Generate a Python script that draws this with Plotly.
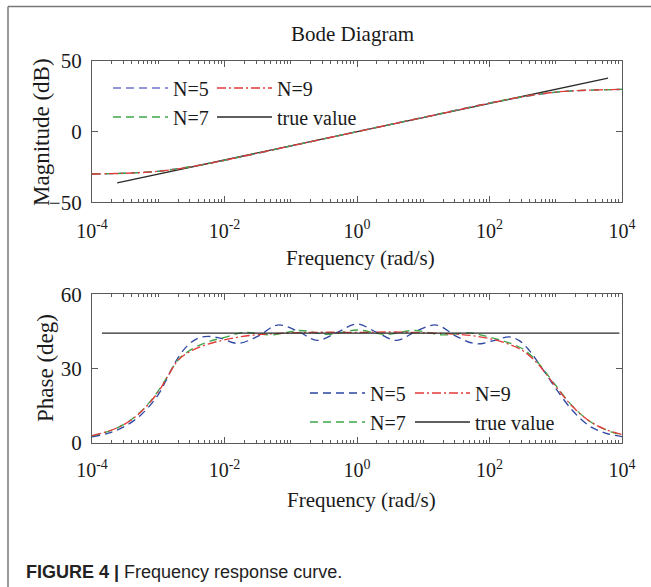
import plotly.graph_objects as go

# ---------------- data ----------------
# Magnitude plot: frequency grid given as log10(rad/s)
mag_logw = [-4, -3.75, -3.5, -3.25, -3, -2.75, -2.5, -2.25, -2, -1, 0, 1, 2, 2.25, 2.5, 2.75, 3, 3.25, 3.5, 3.75, 4]
mag_n5 = [-29.9, -29.7, -29.3, -28.8, -27.9, -26.4, -24.6, -22.5, -20.3, -10.2, 0.1, 10.2, 20.3, 22.5, 24.6, 26.4, 27.9, 28.8, 29.3, 29.7, 29.9]
mag_n7 = [-29.9, -29.7, -29.4, -28.9, -28.0, -26.5, -24.7, -22.6, -20.2, -10.1, 0.0, 10.1, 20.2, 22.6, 24.7, 26.5, 28.0, 28.9, 29.4, 29.7, 29.9]
mag_n9 = [-29.9, -29.7, -29.4, -28.9, -28.0, -26.6, -24.8, -22.6, -20.2, -10.1, 0.0, 10.1, 20.2, 22.6, 24.8, 26.6, 28.0, 28.9, 29.4, 29.7, 30.0]
mag_true_logw = [-3.62, 3.79]
mag_true = [-36.2, 37.9]

# Phase plot
ph5_logw = [-4.0, -3.75, -3.5, -3.25, -3.0, -2.85, -2.7, -2.55, -2.4, -2.25, -2.05, -1.8, -1.5, -1.2, -0.9, -0.6, -0.3, 0.0,
            0.3, 0.6, 0.9, 1.2, 1.5, 1.8, 2.05, 2.3, 2.45, 2.6, 2.75, 2.9, 3.0, 3.25, 3.5, 3.75, 4.0]
ph5 = [2.5, 4.0, 6.8, 11.6, 19.5, 27.0, 34.5, 39.5, 42.3, 43.0, 42.2, 40.2, 43.0, 47.6, 45.2, 41.4, 44.6, 48.0,
       44.6, 41.4, 45.2, 47.6, 43.0, 40.0, 41.2, 42.8, 41.3, 37.4, 31.8, 26.0, 22.0, 13.2, 7.0, 4.0, 2.6]
ph7_logw = [-4.0, -3.75, -3.5, -3.25, -3.0, -2.85, -2.7, -2.5, -2.25, -2.0, -1.71, -1.29, -0.86, -0.43, 0.0,
            0.43, 0.86, 1.29, 1.71, 2.0, 2.25, 2.5, 2.7, 2.85, 3.0, 3.25, 3.5, 3.75, 4.0]
ph7 = [2.9, 4.7, 7.8, 13.0, 21.0, 27.4, 33.6, 37.8, 40.8, 42.6, 44.6, 43.6, 45.4, 43.8, 45.6,
       43.8, 45.4, 43.6, 44.4, 42.7, 40.8, 38.0, 33.4, 28.5, 23.2, 15.0, 9.0, 5.4, 3.2]
ph9_logw = [-4.0, -3.75, -3.5, -3.25, -3.0, -2.85, -2.7, -2.5, -2.25, -2.0, -1.75, -1.5, -1.0, -0.5, 0.0,
            0.5, 1.0, 1.5, 1.75, 2.0, 2.25, 2.5, 2.7, 2.85, 3.0, 3.25, 3.5, 3.75, 4.0]
ph9 = [3.0, 4.8, 7.7, 12.8, 20.6, 27.2, 33.4, 37.2, 39.9, 41.6, 42.9, 43.7, 44.4, 44.7, 44.6,
       44.8, 44.5, 43.9, 43.3, 42.1, 40.3, 37.3, 32.8, 28.0, 22.8, 14.8, 9.0, 5.5, 3.4]
ph_true_logw = [-3.85, 3.96]
ph_true = [44.3, 44.3]

series_names = ["N=5", "N=7", "N=9", "true value"]
x_tick_exps = [-4, -2, 0, 2, 4]
mag_ticks = [-50, 0, 50]
phase_ticks = [0, 30, 60]

# ---------------- styling ----------------
SERIF = "Liberation Serif"
C_BLUE_TOP = "#6d74c9"
C_BLUE_BOT = "#2f47a3"
C_GREEN = "#3da64a"
C_RED = "#e23a3a"
C_BLACK = "#2a2a2a"
AX = "#5a5a5a"


def f(exps):
    return [10 ** e for e in exps]


fig = go.Figure()

# upper (magnitude) plot
fig.add_trace(go.Scatter(x=f(mag_true_logw), y=mag_true, mode="lines", name=series_names[3],
                         line=dict(color=C_BLACK, width=1.3), xaxis="x", yaxis="y", legend="legend4"))
fig.add_trace(go.Scatter(x=f(mag_logw), y=mag_n5, mode="lines", name=series_names[0], line_shape="spline",
                         line=dict(color=C_BLUE_TOP, width=1.3, dash="8px,5px"), xaxis="x", yaxis="y", legend="legend"))
fig.add_trace(go.Scatter(x=f(mag_logw), y=mag_n7, mode="lines", name=series_names[1], line_shape="spline",
                         line=dict(color=C_GREEN, width=1.3, dash="8px,5px"), xaxis="x", yaxis="y", legend="legend2"))
fig.add_trace(go.Scatter(x=f(mag_logw), y=mag_n9, mode="lines", name=series_names[2], line_shape="spline",
                         line=dict(color=C_RED, width=1.3, dash="9px,3px,2px,3px"), xaxis="x", yaxis="y", legend="legend3"))

# lower (phase) plot
fig.add_trace(go.Scatter(x=f(ph5_logw), y=ph5, mode="lines", name=series_names[0], line_shape="spline",
                         line=dict(color=C_BLUE_BOT, width=1.3, dash="8px,5px"), xaxis="x2", yaxis="y2", legend="legend5"))
fig.add_trace(go.Scatter(x=f(ph7_logw), y=ph7, mode="lines", name=series_names[1], line_shape="spline",
                         line=dict(color=C_GREEN, width=1.3, dash="8px,5px"), xaxis="x2", yaxis="y2", legend="legend6"))
fig.add_trace(go.Scatter(x=f(ph9_logw), y=ph9, mode="lines", name=series_names[2], line_shape="spline",
                         line=dict(color=C_RED, width=1.3, dash="9px,3px,2px,3px"), xaxis="x2", yaxis="y2", legend="legend7"))
fig.add_trace(go.Scatter(x=f(ph_true_logw), y=ph_true, mode="lines", name=series_names[3],
                         line=dict(color=C_BLACK, width=1.3), xaxis="x2", yaxis="y2", legend="legend8"))

W, H = 651, 587
L, R, T, B = 92, 29, 61, 144
PW, PH = W - L - R, H - T - B


def px(xp):
    return (xp - L) / PW


def py(yp):
    return (H - B - yp) / PH


minor_vals = [m * 10 ** d for d in range(-4, 4) for m in range(1, 10) if not (m == 1 and d % 2 == 0)]
xt_vals = [10 ** e for e in x_tick_exps]
xt_text = ["10<sup>%d</sup>" % e for e in x_tick_exps]


def xaxis(anchor, standoff):
    return dict(type="log", range=[-4, 4], anchor=anchor, tickmode="array", tickvals=xt_vals, ticktext=xt_text,
                ticks="inside", ticklen=6, tickwidth=1, tickcolor=AX, showline=True, linecolor=AX, linewidth=1.3,
                mirror="ticks", showgrid=False, zeroline=False, ticklabelstandoff=standoff,
                minor=dict(tickmode="array", tickvals=minor_vals, ticks="inside", ticklen=3, tickwidth=1,
                           tickcolor=AX, showgrid=False),
                tickfont=dict(family=SERIF, size=20, color="#1a1a1a"))


def yaxis(anchor, rng, tv, dom):
    return dict(range=rng, anchor=anchor, domain=dom, tickmode="array", tickvals=tv, ticks="inside", ticklen=6,
                tickwidth=1, tickcolor=AX, showline=True, linecolor=AX, linewidth=1.3, mirror="ticks",
                showgrid=False, zeroline=False, ticklabelstandoff=5,
                tickfont=dict(family=SERIF, size=21, color="#1a1a1a"))


layout = dict(
    width=W, height=H, margin=dict(l=L, r=R, t=T, b=B, autoexpand=False),
    paper_bgcolor="white", plot_bgcolor="white", showlegend=True,
    xaxis=xaxis("y", 10),
    yaxis=yaxis("x", [-50, 50], mag_ticks, [py(202.4), 1.0]),
    xaxis2=xaxis("y2", 9),
    yaxis2=yaxis("x2", [0, 60], phase_ticks, [0.0, py(294.3)]),
)

legend_pos = {
    "legend": (113, 88), "legend3": (217, 88), "legend2": (113, 117), "legend4": (217, 117),
    "legend5": (310, 393), "legend7": (415, 393), "legend6": (310, 422), "legend8": (415, 422),
}
for key, (lx, ly) in legend_pos.items():
    layout[key] = dict(x=px(lx - 5), y=py(ly), xanchor="left", yanchor="middle", bgcolor="rgba(0,0,0,0)",
                       borderwidth=0, font=dict(family=SERIF, size=20, color="#1a1a1a"), itemwidth=55)

fig.update_layout(**layout)

ann = [
    dict(text="Bode Diagram", x=px(352), y=py(33.5), font=dict(family=SERIF, size=21, color="#1a1a1a")),
    dict(text="Frequency (rad/s)", x=px(360), y=py(258), font=dict(family=SERIF, size=21, color="#1a1a1a")),
    dict(text="Frequency (rad/s)", x=px(361), y=py(500), font=dict(family=SERIF, size=21, color="#1a1a1a")),
    dict(text="Magnitude (dB)", x=px(41), y=py(132), textangle=-90, font=dict(family=SERIF, size=23, color="#1a1a1a")),
    dict(text="Phase (deg)", x=px(45), y=py(368), textangle=-90, font=dict(family=SERIF, size=23, color="#1a1a1a")),
]
for a in ann:
    fig.add_annotation(xref="paper", yref="paper", showarrow=False, xanchor="center", yanchor="middle", **a)

fig.add_annotation(xref="paper", yref="paper", showarrow=False, x=px(24), y=py(572), xanchor="left",
                   yanchor="middle", text="<b>FIGURE 4 |</b> Frequency response curve.",
                   font=dict(family="Liberation Sans", size=18, color="#222"))

# figure frame (left and top edges)
fig.add_shape(type="line", xref="paper", yref="paper", x0=px(8), x1=px(8), y0=py(6.5), y1=py(600),
              line=dict(color="#777", width=1.5))
fig.add_shape(type="line", xref="paper", yref="paper", x0=px(8), x1=px(660), y0=py(6.5), y1=py(6.5),
              line=dict(color="#777", width=1.5))

fig.write_html("out.html", config={"displayModeBar": False},
               post_script="document.body.style.margin='0px';document.body.style.overflow='hidden';")
